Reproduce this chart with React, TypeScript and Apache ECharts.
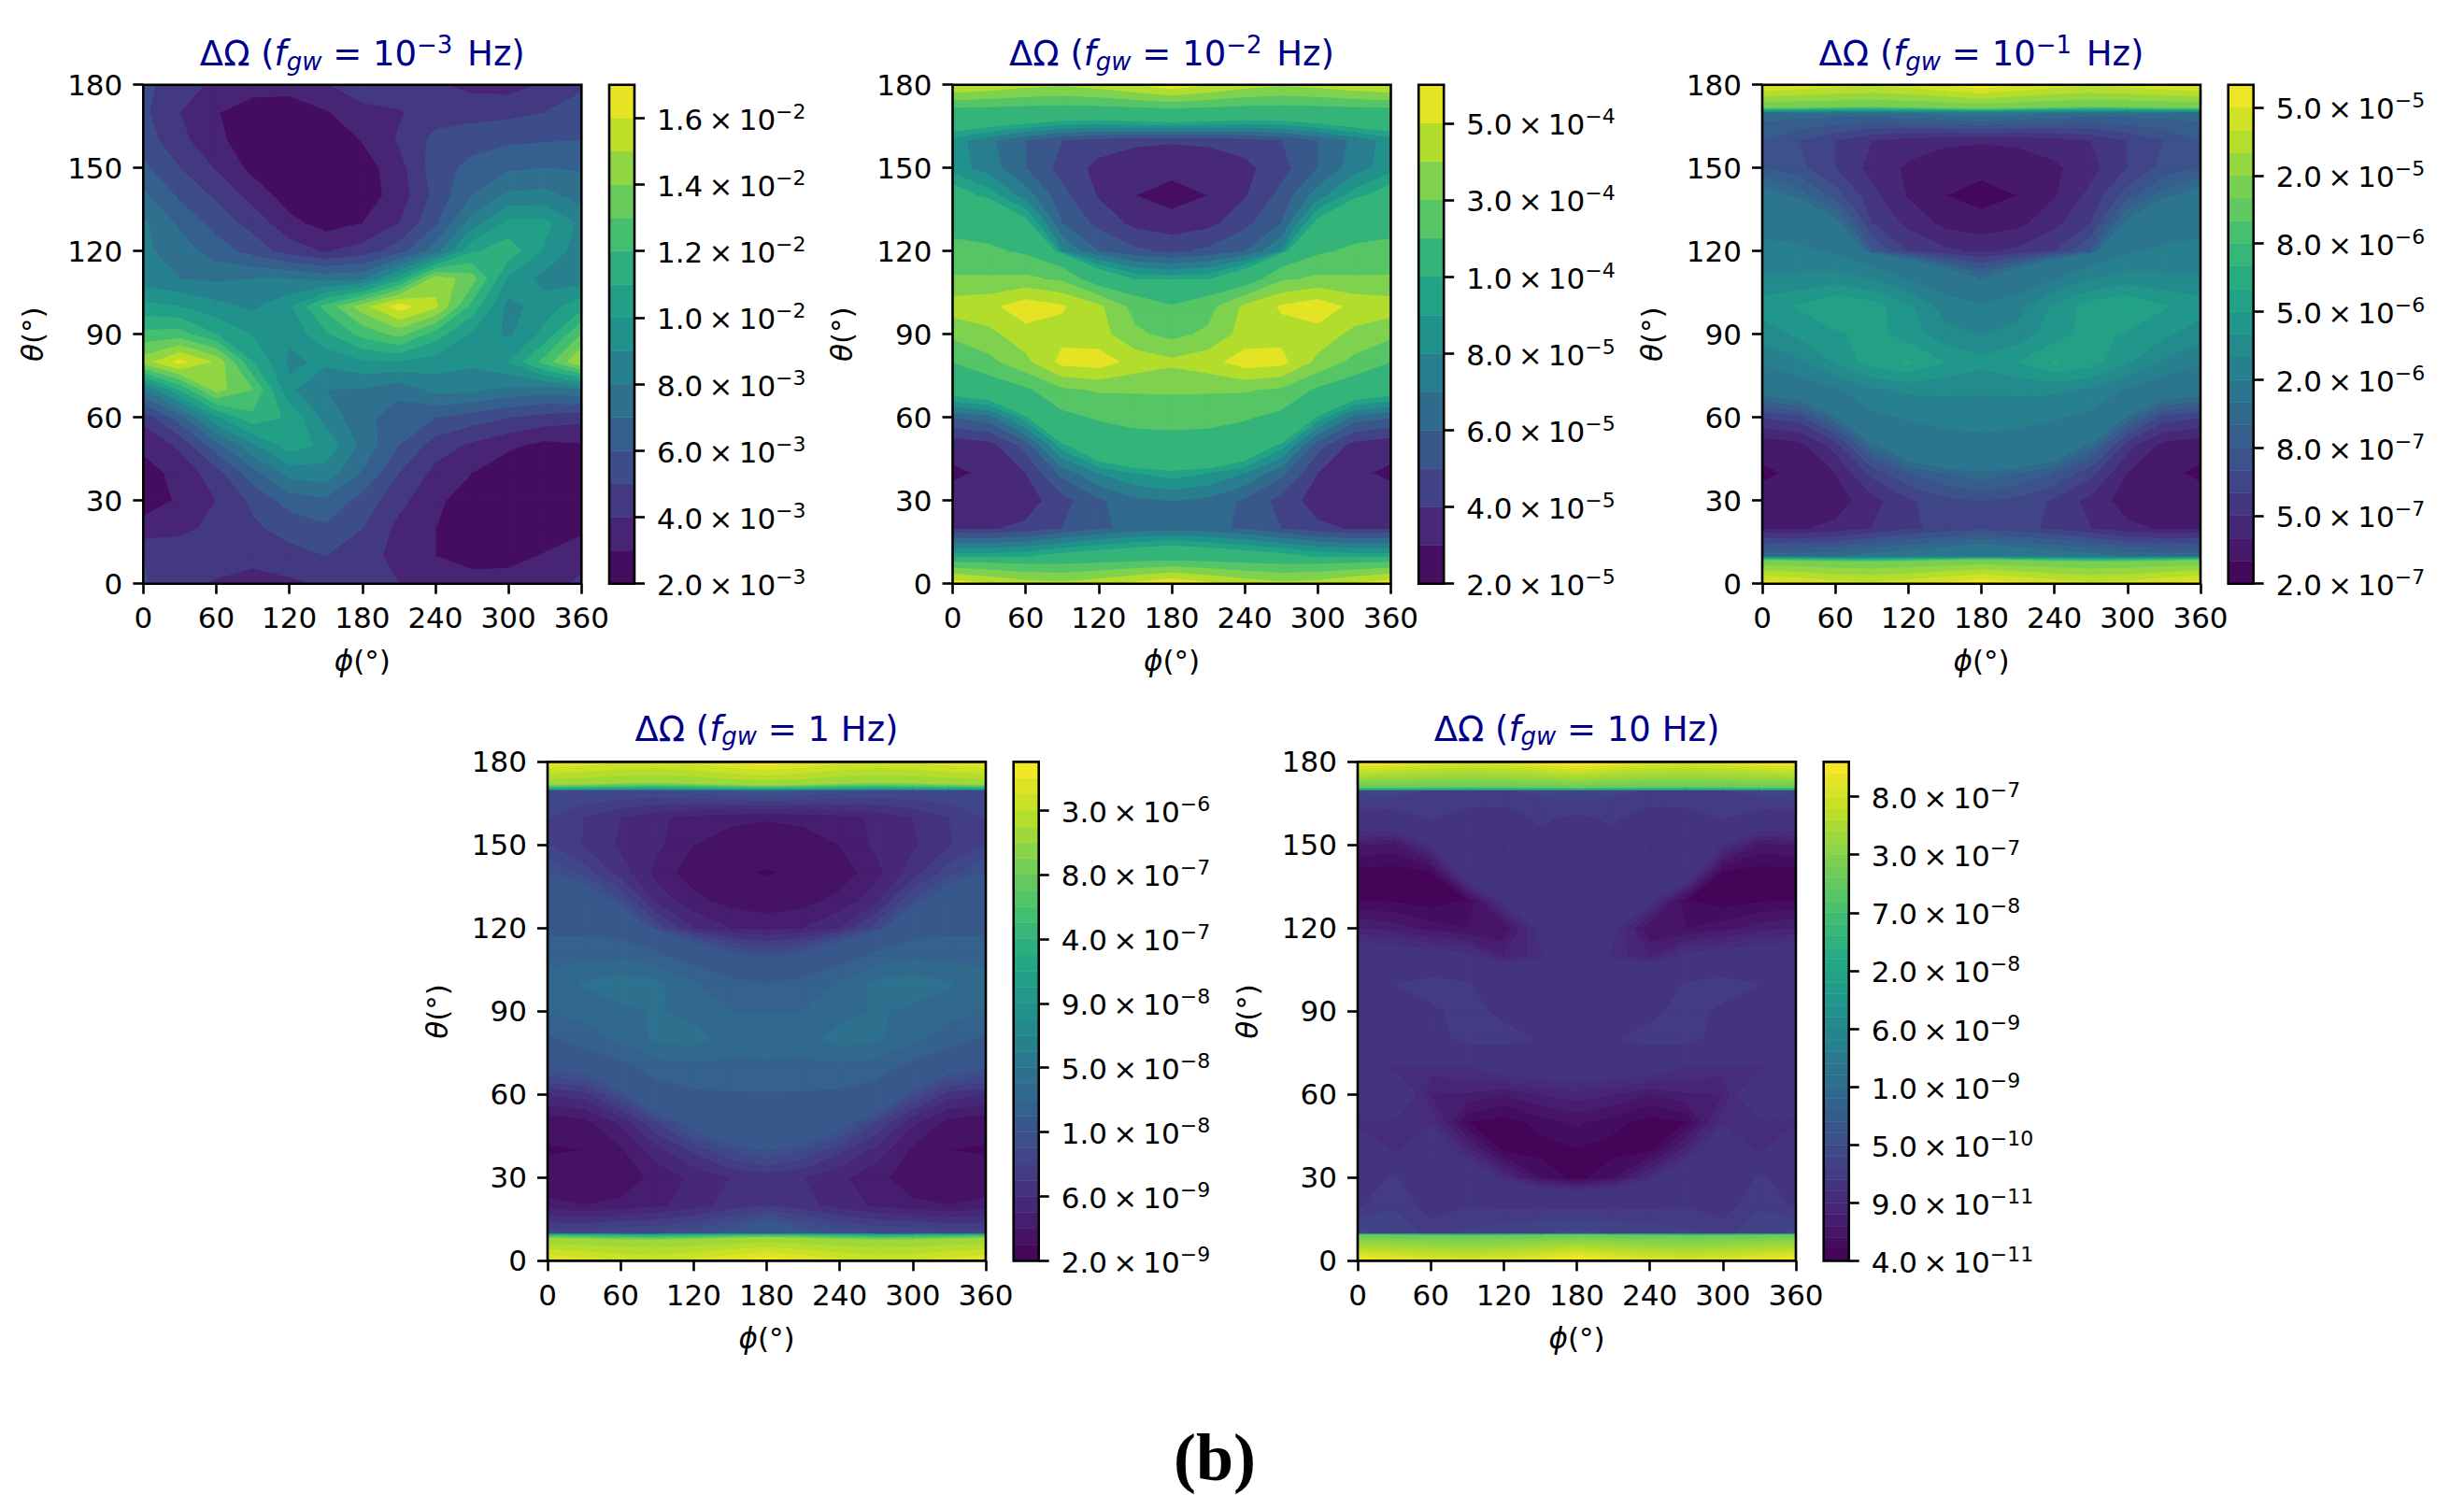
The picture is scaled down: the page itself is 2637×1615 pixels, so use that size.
import { useEffect, useRef } from "react";
import * as echarts from "echarts";

const FONT = "'DejaVu Sans', sans-serif";
const TITLE_BLUE = "#00008b";

const PHI = [0, 30, 60, 90, 120, 150, 180, 210, 240, 270, 300, 330, 360];
const THETA = [0, 10, 20, 30, 40, 50, 60, 70, 80, 90, 100, 110, 120, 130, 140, 150, 160, 170, 180];

// viridis stops, for the contour bands
const VIRIDIS = ["#440154", "#482475", "#414487", "#355f8d", "#2a788e", "#21918c", "#22a884", "#44bf70", "#7ad151", "#bddf26", "#fde725"];

// contour levels of each panel, units are in the comment
const LEVELS_A = [2, 3, 4, 5, 6, 7, 8, 9, 10, 11, 12, 13, 14, 15, 16, 17]; // 1e-3
const LEVELS_B = [2, 3, 4, 5, 6, 7, 8, 9, 10, 20, 30, 40, 50, 60]; // 1e-5
const LEVELS_C = [2, 3, 4, 5, 6, 7, 8, 9, 10, 20, 30, 40, 50, 60, 70, 80, 90, 100, 200, 300, 400, 500, 600]; // 1e-7
const LEVELS_D = [2, 3, 4, 5, 6, 7, 8, 9, 10, 20, 30, 40, 50, 60, 70, 80, 90, 100, 200, 300, 400, 500, 600, 700, 800, 900, 1000, 2000, 3000, 4000, 5000, 6000]; // 1e-9
const LEVELS_E = [4, 5, 6, 7, 8, 9, 10, 20, 30, 40, 50, 60, 70, 80, 90, 100, 200, 300, 400, 500, 600, 700, 800, 900, 1000, 2000, 3000, 4000, 5000, 6000, 7000, 8000, 9000, 10000, 20000, 30000, 40000, 50000, 60000, 70000, 80000, 90000, 100000, 200000]; // 1e-11

// colourbar labels: mantissa, exponent
const TICKS_A = [["2.0", "−3"], ["4.0", "−3"], ["6.0", "−3"], ["8.0", "−3"], ["1.0", "−2"], ["1.2", "−2"], ["1.4", "−2"], ["1.6", "−2"]];
const TICKS_B = [["2.0", "−5"], ["4.0", "−5"], ["6.0", "−5"], ["8.0", "−5"], ["1.0", "−4"], ["3.0", "−4"], ["5.0", "−4"]];
const TICKS_C = [["2.0", "−7"], ["5.0", "−7"], ["8.0", "−7"], ["2.0", "−6"], ["5.0", "−6"], ["8.0", "−6"], ["2.0", "−5"], ["5.0", "−5"]];
const TICKS_D = [["2.0", "−9"], ["6.0", "−9"], ["1.0", "−8"], ["5.0", "−8"], ["9.0", "−8"], ["4.0", "−7"], ["8.0", "−7"], ["3.0", "−6"]];
const TICKS_E = [["4.0", "−11"], ["9.0", "−11"], ["5.0", "−10"], ["1.0", "−9"], ["6.0", "−9"], ["2.0", "−8"], ["7.0", "−8"], ["3.0", "−7"], ["8.0", "−7"]];

// one row per theta, from 0 to 180, one value per phi
const VALUES_A = [
  [5.1, 4.3, 3.9, 3.6, 3.8, 4.1, 4.4, 4.0, 3.6, 3.4, 3.5, 3.8, 4.1],
  [5.0, 4.7, 4.4, 4.3, 4.6, 5.0, 4.5, 3.6, 3.0, 2.6, 2.6, 3.1, 3.8],
  [3.3, 3.7, 4.3, 4.8, 5.4, 5.8, 5.0, 3.7, 3.0, 2.2, 2.0, 2.3, 2.7],
  [2.6, 3.1, 4.0, 5.2, 6.4, 6.8, 5.6, 4.3, 3.2, 2.5, 2.0, 2.0, 2.2],
  [2.6, 3.3, 4.6, 6.6, 8.4, 8.6, 6.9, 5.0, 3.7, 3.0, 2.3, 2.0, 2.2],
  [3.2, 4.2, 6.6, 8.8, 10.5, 9.7, 7.7, 6.0, 4.5, 3.8, 3.2, 2.7, 2.9],
  [4.3, 6.5, 9.8, 11.7, 10.8, 8.6, 7.3, 6.5, 6.0, 5.5, 5.0, 4.6, 4.3],
  [7.8, 11.0, 14.4, 13.0, 9.2, 8.0, 7.9, 7.3, 8.3, 8.2, 7.7, 7.4, 7.8],
  [14.5, 16.3, 14.8, 11.0, 8.8, 9.2, 9.8, 9.9, 9.5, 9.2, 10.0, 12.4, 15.0],
  [12.3, 12.4, 11.0, 9.9, 9.2, 10.8, 12.3, 13.3, 11.5, 9.8, 8.8, 10.3, 13.0],
  [10.3, 10.0, 9.3, 8.8, 9.8, 12.3, 14.5, 16.5, 15.2, 11.6, 8.6, 9.5, 10.6],
  [8.4, 8.0, 7.8, 8.0, 8.0, 7.6, 7.8, 10.5, 14.6, 13.5, 9.8, 8.6, 8.5],
  [8.2, 7.5, 6.5, 5.6, 4.5, 3.9, 4.4, 5.5, 7.5, 10.8, 11.6, 9.8, 8.4],
  [8.2, 6.8, 5.6, 4.6, 3.3, 2.6, 3.0, 4.0, 5.8, 8.5, 10.3, 10.3, 8.7],
  [7.2, 5.8, 4.8, 3.6, 2.5, 2.0, 2.5, 3.4, 5.3, 7.0, 8.2, 8.3, 7.6],
  [6.2, 5.0, 3.9, 2.7, 2.1, 2.0, 2.5, 3.6, 5.5, 6.3, 6.8, 7.0, 6.9],
  [5.5, 4.3, 3.2, 2.5, 2.2, 2.3, 3.05, 4.1, 5.3, 5.6, 5.8, 5.9, 6.0],
  [5.2, 4.0, 3.05, 2.5, 2.4, 2.9, 3.6, 3.9, 4.5, 4.6, 4.7, 5.0, 5.5],
  [5.3, 4.4, 3.8, 3.4, 3.4, 3.9, 4.7, 4.6, 4.1, 3.7, 3.6, 4.1, 4.8],
];

const VALUES_B = [
  [56, 50, 44, 42, 46, 52, 58, 52, 46, 42, 44, 50, 56],
  [9.5, 9.5, 9.8, 10.5, 11, 11.5, 12, 11.5, 11, 10.5, 9.8, 9.5, 9.5],
  [4.0, 3.9, 4.2, 5.0, 5.8, 6.3, 6.5, 6.3, 5.8, 5.0, 4.2, 3.9, 4.0],
  [3.2, 3.1, 3.5, 4.6, 5.8, 6.7, 7.0, 6.7, 5.8, 4.6, 3.5, 3.1, 3.2],
  [2.9, 3.1, 4.0, 6.3, 8.0, 9.0, 9.5, 9.0, 8.0, 6.3, 4.0, 3.1, 2.9],
  [3.2, 3.6, 5.4, 9.5, 12.5, 14.5, 15, 14.5, 12.5, 9.5, 5.4, 3.6, 3.2],
  [6.0, 6.5, 9.5, 17, 21, 23.5, 24, 23.5, 21, 17, 9.5, 6.5, 6.0],
  [11, 12, 18, 28, 31, 31, 31, 31, 31, 28, 18, 12, 11],
  [20, 27, 37, 53, 55, 46, 42, 46, 55, 53, 37, 27, 20],
  [32, 37, 46, 47, 44, 32, 27, 32, 44, 47, 46, 37, 32],
  [45, 47, 56, 51, 42, 26, 20.5, 26, 42, 51, 56, 47, 45],
  [31, 31, 32, 28, 12, 9.8, 9.5, 9.8, 12, 28, 32, 31, 31],
  [24, 22, 18, 8.0, 6.0, 5.2, 4.8, 5.2, 6.0, 8.0, 18, 22, 24],
  [15, 14, 10.5, 6.0, 4.7, 3.7, 3.4, 3.7, 4.7, 6.0, 10.5, 14, 15],
  [11, 9.5, 7.5, 5.3, 3.9, 3.0, 2.6, 3.0, 3.9, 5.3, 7.5, 9.5, 11],
  [8.5, 7.5, 6.0, 4.6, 3.7, 3.35, 3.3, 3.35, 3.7, 4.6, 6.0, 7.5, 8.5],
  [8.5, 7.2, 6.0, 5.0, 4.5, 4.2, 4.1, 4.2, 4.5, 5.0, 6.0, 7.2, 8.5],
  [13, 13, 12.5, 12, 12, 12.5, 13, 12.5, 12, 12, 12.5, 13, 13],
  [50, 47, 43, 41, 44, 50, 56, 50, 44, 41, 43, 47, 50],
];

const VALUES_C = [
  [550, 500, 440, 420, 460, 520, 590, 520, 460, 420, 440, 500, 550],
  [9.5, 9.5, 9.8, 10.5, 11, 11.5, 12.5, 11.5, 11, 10.5, 9.8, 9.5, 9.5],
  [4.0, 3.9, 4.2, 5.0, 5.8, 6.3, 6.6, 6.3, 5.8, 5.0, 4.2, 3.9, 4.0],
  [3.2, 3.1, 3.5, 4.6, 5.8, 6.7, 7.0, 6.7, 5.8, 4.6, 3.5, 3.1, 3.2],
  [2.9, 3.1, 4.0, 6.3, 8.0, 9.0, 9.7, 9.0, 8.0, 6.3, 4.0, 3.1, 2.9],
  [3.2, 3.6, 5.4, 9.5, 12.5, 14.5, 15.5, 14.5, 12.5, 9.5, 5.4, 3.6, 3.2],
  [6.0, 6.5, 9.5, 17, 21, 23.5, 25, 23.5, 21, 17, 9.5, 6.5, 6.0],
  [11, 12, 18, 28, 32, 32, 31, 32, 32, 28, 18, 12, 11],
  [21, 28, 41, 55, 61, 50, 43, 50, 61, 55, 41, 28, 21],
  [34, 42, 48, 54, 45, 34, 29, 34, 45, 54, 48, 42, 34],
  [45, 51, 60.5, 55, 42, 25, 21, 25, 42, 55, 60.5, 51, 45],
  [31, 32, 34, 29, 19, 13, 9.7, 13, 19, 29, 34, 32, 31],
  [24, 22, 18, 8.0, 6.0, 5.2, 4.8, 5.2, 6.0, 8.0, 18, 22, 24],
  [15, 14, 10.5, 6.0, 4.7, 3.7, 3.4, 3.7, 4.7, 6.0, 10.5, 14, 15],
  [11, 9.5, 7.5, 5.3, 3.9, 3.0, 2.6, 3.0, 3.9, 5.3, 7.5, 9.5, 11],
  [8.0, 7.3, 6.0, 4.6, 3.8, 3.4, 3.3, 3.4, 3.8, 4.6, 6.0, 7.3, 8.0],
  [8.0, 7.0, 6.0, 5.0, 4.5, 4.2, 4.1, 4.2, 4.5, 5.0, 6.0, 7.0, 8.0],
  [9.5, 9.5, 9.5, 9.5, 10, 10.5, 11, 10.5, 10, 9.5, 9.5, 9.5, 9.5],
  [500, 470, 430, 410, 440, 500, 570, 500, 440, 410, 430, 470, 500],
];

const VALUES_D = [
  [5000, 4500, 3900, 3700, 4200, 5000, 5700, 5000, 4200, 3700, 3900, 4500, 5000],
  [8.5, 8.5, 9.0, 9.0, 9.5, 10.5, 12.5, 10.5, 9.5, 9.0, 9.0, 8.5, 8.5],
  [4.3, 4.0, 4.2, 4.8, 5.5, 6.4, 7.0, 6.4, 5.5, 4.8, 4.2, 4.0, 4.3],
  [3.2, 3.1, 3.4, 4.3, 5.2, 6.0, 6.3, 6.0, 5.2, 4.3, 3.4, 3.1, 3.2],
  [2.95, 3.0, 3.8, 5.6, 7.2, 9.0, 10, 9.0, 7.2, 5.6, 3.8, 3.0, 2.95],
  [3.2, 3.6, 5.2, 8.0, 11, 14, 15, 14, 11, 8.0, 5.2, 3.6, 3.2],
  [6.0, 6.5, 9.0, 14, 18, 19, 19, 19, 18, 14, 9.0, 6.5, 6.0],
  [10.5, 11, 16, 25, 27, 27, 28, 27, 27, 25, 16, 11, 10.5],
  [18, 24, 32, 42, 44, 36, 35, 36, 44, 42, 32, 24, 18],
  [30, 34, 38, 41, 36, 30, 30, 30, 36, 41, 38, 34, 30],
  [33, 41, 45, 43, 31, 22, 20, 22, 31, 43, 45, 41, 33],
  [27.5, 27, 28, 22, 14, 10.5, 9.5, 10.5, 14, 22, 28, 27, 27.5],
  [17, 17, 14, 8.5, 6.0, 5.0, 4.7, 5.0, 6.0, 8.5, 14, 17, 17],
  [13, 12, 9.0, 5.6, 4.3, 3.6, 3.3, 3.6, 4.3, 5.6, 9.0, 12, 13],
  [10, 8.5, 6.5, 4.6, 3.4, 3.1, 2.95, 3.1, 3.4, 4.6, 6.5, 8.5, 10],
  [8.0, 6.9, 5.8, 5.2, 4.0, 3.4, 3.3, 3.4, 4.0, 5.2, 5.8, 6.9, 8.0],
  [8.0, 7.0, 6.0, 5.2, 4.6, 4.3, 4.1, 4.3, 4.6, 5.2, 6.0, 7.0, 8.0],
  [9.0, 9.0, 9.0, 9.0, 9.5, 10, 10.5, 10, 9.5, 9.0, 9.0, 9.0, 9.0],
  [5000, 4600, 4000, 3800, 4200, 5000, 5700, 5000, 4200, 3800, 4000, 4600, 5000],
];

const VALUES_E = [
  [108000, 100000, 90000, 85000, 90000, 100000, 115000, 100000, 90000, 85000, 90000, 100000, 108000],
  [42, 38, 26, 32, 36, 40, 42, 40, 36, 32, 26, 38, 42],
  [18, 28, 14, 19, 17, 16, 16, 16, 17, 19, 14, 28, 18],
  [16, 21, 9.7, 13, 9.3, 6.0, 4.5, 6.0, 9.3, 13, 9.7, 21, 16],
  [13, 9.6, 12, 8.5, 4.7, 4.5, 4.9, 4.5, 4.7, 8.5, 12, 9.6, 13],
  [9.5, 9.7, 9.8, 5.0, 4.4, 5.4, 6.2, 5.4, 4.4, 5.0, 9.8, 9.7, 9.5],
  [14, 13, 8.0, 7.8, 7.0, 8.0, 8.5, 8.0, 7.0, 7.8, 8.0, 13, 14],
  [14, 9.5, 9.5, 10, 11.3, 11.5, 11.5, 11.5, 11.3, 10, 9.5, 9.5, 14],
  [15, 17, 18, 21.5, 22, 19.5, 16, 19.5, 22, 21.5, 18, 17, 15],
  [16, 17, 18.8, 22, 18.5, 16, 15, 16, 18.5, 22, 18.8, 17, 16],
  [16, 20, 22.5, 20.5, 16, 14, 13.5, 14, 16, 20.5, 22.5, 20, 16],
  [12, 11.5, 11, 10.5, 8.0, 9.6, 13, 9.6, 8.0, 10.5, 11, 11.5, 12],
  [8.0, 7.5, 6.5, 6.0, 6.0, 10.5, 14, 10.5, 6.0, 6.0, 6.5, 7.5, 8.0],
  [5.0, 4.8, 4.4, 5.0, 10.5, 12, 9.8, 12, 10.5, 5.0, 4.4, 4.8, 5.0],
  [4.5, 4.4, 4.6, 12, 11, 9.8, 11.5, 9.8, 11, 12, 4.6, 4.4, 4.5],
  [7.0, 6.6, 9.8, 12, 9.7, 17, 15, 17, 9.7, 12, 9.8, 6.6, 7.0],
  [13, 13, 21, 15, 14, 21.5, 18, 21.5, 14, 15, 21, 13, 13],
  [38, 36, 30, 28, 29, 33, 38, 33, 29, 28, 30, 36, 38],
  [108000, 100000, 90000, 85000, 90000, 100000, 115000, 100000, 90000, 85000, 90000, 100000, 108000],
];

const TITLES = [
  "{n|ΔΩ (}{i|f}{s|gw}{n| = 10}{e|−3}{n| Hz)}",
  "{n|ΔΩ (}{i|f}{s|gw}{n| = 10}{e|−2}{n| Hz)}",
  "{n|ΔΩ (}{i|f}{s|gw}{n| = 10}{e|−1}{n| Hz)}",
  "{n|ΔΩ (}{i|f}{s|gw}{n| = 1 Hz)}",
  "{n|ΔΩ (}{i|f}{s|gw}{n| = 10 Hz)}",
];

const PANELS = [
  { left: 153.3, top: 90.7, values: VALUES_A, levels: LEVELS_A, ticks: TICKS_A, every: 2 },
  { left: 1019.5, top: 90.7, values: VALUES_B, levels: LEVELS_B, ticks: TICKS_B, every: 2 },
  { left: 1886, top: 90.7, values: VALUES_C, levels: LEVELS_C, ticks: TICKS_C, every: 3 },
  { left: 586, top: 815.4, values: VALUES_D, levels: LEVELS_D, ticks: TICKS_D, every: 4 },
  { left: 1453, top: 815.4, values: VALUES_E, levels: LEVELS_E, ticks: TICKS_E, every: 5 },
];

const PLOT_W = 469;
const PLOT_H = 534;
const BAR_GAP = 498.7;
const BAR_W = 27;

function viridis(t: number) {
  const p = t * (VIRIDIS.length - 1);
  const i = Math.min(Math.floor(p), VIRIDIS.length - 2);
  const c0 = echarts.color.parse(VIRIDIS[i]);
  const c1 = echarts.color.parse(VIRIDIS[i + 1]);
  const f = p - i;
  const mix = [0, 1, 2].map((k) => Math.round(c0[k] + (c1[k] - c0[k]) * f));
  return `rgb(${mix.join(",")})`;
}

type Pt = [number, number, number];

// keep the part of a cell on one side of a level, linear along its edges
function clip(poly: Pt[], level: number, above: boolean) {
  const out: Pt[] = [];
  const inside = (p: Pt) => (above ? p[2] >= level : p[2] <= level);
  poly.forEach((p, i) => {
    const q = poly[(i + 1) % poly.length];
    if (inside(p)) out.push(p);
    if (inside(p) !== inside(q)) {
      const f = (level - p[2]) / (q[2] - p[2]);
      out.push([p[0] + (q[0] - p[0]) * f, p[1] + (q[1] - p[1]) * f, level]);
    }
  });
  return out;
}

function contourItem(levels: number[]) {
  const colors = levels.slice(1).map((_, i) => viridis((i + 0.5) / (levels.length - 1)));
  return (_params: any, api: any) => {
    const v = [0, 1, 2, 3, 4, 5, 6, 7].map((d) => api.value(d));
    const cell: Pt[] = [[v[0], v[1], v[4]], [v[2], v[1], v[5]], [v[2], v[3], v[6]], [v[0], v[3], v[7]]];
    const children: any[] = [];
    colors.forEach((color, i) => {
      const band = clip(clip(cell, levels[i], true), levels[i + 1], false);
      if (band.length < 3) return;
      children.push({
        type: "polygon",
        shape: { points: band.map((p) => api.coord([p[0], p[1]])) },
        style: { fill: color, stroke: color, lineWidth: 1 },
      });
    });
    return { type: "group", children };
  };
}

function barItem(count: number) {
  return (_params: any, api: any) => {
    const i = api.value(0);
    const a = api.coord([0, i]);
    const b = api.coord([1, i + 1]);
    const color = viridis((i + 0.5) / count);
    return {
      type: "rect",
      shape: { x: a[0], y: b[1], width: b[0] - a[0], height: a[1] - b[1] },
      style: { fill: color, stroke: color, lineWidth: 0.5 },
    };
  };
}

function frameItem(params: any) {
  const c = params.coordSys;
  return {
    type: "rect",
    shape: { x: c.x, y: c.y, width: c.width, height: c.height },
    style: { fill: "transparent", stroke: "#000", lineWidth: 2.6 },
  };
}

function cellData(values: number[][]) {
  const out: number[][] = [];
  for (let t = 0; t < THETA.length - 1; t++) {
    for (let p = 0; p < PHI.length - 1; p++) {
      out.push([PHI[p], THETA[t], PHI[p + 1], THETA[t + 1], values[t][p], values[t][p + 1], values[t + 1][p + 1], values[t + 1][p]]);
    }
  }
  return out;
}

const TICK = { length: 11, lineStyle: { color: "#000", width: 2.6 } };
const AXIS_LABEL = { fontFamily: FONT, fontSize: 31, color: "#000" };

function buildOption() {
  const grid: any[] = [];
  const xAxis: any[] = [];
  const yAxis: any[] = [];
  const series: any[] = [];
  const title: any[] = [];

  PANELS.forEach((p, k) => {
    const plot = k * 2;
    const bar = k * 2 + 1;
    const bands = p.levels.length - 1;
    const tickIdx = p.ticks.map((_, i) => i * p.every);

    grid.push({ left: p.left, top: p.top, width: PLOT_W, height: PLOT_H });
    grid.push({ left: p.left + BAR_GAP, top: p.top, width: BAR_W, height: PLOT_H });

    xAxis.push({
      gridIndex: plot, type: "value", min: 0, max: 360, interval: 60,
      splitLine: { show: false }, axisLine: { show: false, onZero: false }, axisTick: TICK,
      axisLabel: { ...AXIS_LABEL, margin: 21 },
      name: "{i|ϕ}{n|(°)}", nameLocation: "middle", nameGap: 67,
      nameTextStyle: {
        ...AXIS_LABEL,
        rich: { i: { ...AXIS_LABEL, fontStyle: "italic" }, n: AXIS_LABEL },
      },
    });
    yAxis.push({
      gridIndex: plot, type: "value", min: 0, max: 180, interval: 30,
      splitLine: { show: false }, axisLine: { show: false, onZero: false }, axisTick: TICK,
      axisLabel: { ...AXIS_LABEL, margin: 22 },
      name: "{i|θ}{n|(°)}", nameLocation: "middle", nameGap: 103, nameRotate: 90,
      nameTextStyle: {
        ...AXIS_LABEL,
        rich: { i: { ...AXIS_LABEL, fontStyle: "italic" }, n: AXIS_LABEL },
      },
    });
    xAxis.push({ gridIndex: bar, type: "value", min: 0, max: 1, show: false });
    yAxis.push({
      gridIndex: bar, type: "value", min: 0, max: bands, position: "right",
      splitLine: { show: false }, axisLine: { show: false, onZero: false },
      axisTick: { ...TICK, customValues: tickIdx },
      axisLabel: {
        ...AXIS_LABEL, margin: 24, customValues: tickIdx,
        formatter: (v: number) => {
          const t = p.ticks[Math.round(v / p.every)];
          return t ? `{m|${t[0]}\u2009×\u200910}{e|${t[1]}}` : "";
        },
        rich: {
          m: { ...AXIS_LABEL, padding: [3, 0, 0, 0] },
          e: { ...AXIS_LABEL, fontSize: 22, padding: [0, 0, 14, 0] },
        },
      },
    });

    series.push({
      type: "custom", xAxisIndex: plot, yAxisIndex: plot, z: 2, silent: true,
      encode: { x: 0, y: 1 }, renderItem: contourItem(p.levels), data: cellData(p.values),
    });
    series.push({
      type: "custom", xAxisIndex: plot, yAxisIndex: plot, z: 5, silent: true,
      encode: { x: 0, y: 1 }, renderItem: frameItem, data: [[0, 0]],
    });
    series.push({
      type: "custom", xAxisIndex: bar, yAxisIndex: bar, z: 2, silent: true,
      encode: { y: 0 }, renderItem: barItem(bands), data: p.levels.slice(1).map((_, i) => [i]),
    });
    series.push({
      type: "custom", xAxisIndex: bar, yAxisIndex: bar, z: 5, silent: true,
      encode: { x: 0, y: 1 }, renderItem: frameItem, data: [[0, 0]],
    });

    const base = { fontFamily: FONT, fontSize: 37, color: TITLE_BLUE, fontWeight: "normal" };
    title.push({
      text: TITLES[k], left: p.left + PLOT_W / 2, top: p.top - 56, textAlign: "center", padding: 0,
      textStyle: {
        ...base,
        rich: {
          n: base,
          i: { ...base, fontStyle: "italic" },
          s: { ...base, fontSize: 26, fontStyle: "italic", padding: [16, 0, 0, 0] },
          e: { ...base, fontSize: 26, padding: [0, 4, 20, 0] },
        },
      },
    });
  });

  return {
    animation: false,
    backgroundColor: "#fff",
    title, grid, xAxis, yAxis, series,
    graphic: [{
      type: "text", x: 1300, y: 1560,
      style: {
        text: "(b)", fontFamily: "'Liberation Serif', serif", fontWeight: "bold", fontSize: 72,
        fill: "#000", textAlign: "center", textVerticalAlign: "middle",
      },
    }],
  };
}

export default function App() {
  const ref = useRef<HTMLDivElement>(null);
  useEffect(() => {
    if (!ref.current) return;
    const chart = echarts.init(ref.current, undefined, { renderer: "svg" });
    chart.setOption(buildOption() as any);
    return () => chart.dispose();
  }, []);
  return <div ref={ref} style={{ position: "absolute", left: 0, top: 0, width: 2637, height: 1615 }} />;
}
